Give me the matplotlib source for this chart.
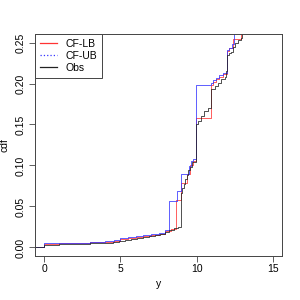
import matplotlib
matplotlib.use("Agg")
import matplotlib.pyplot as plt
from matplotlib.lines import Line2D

plt.rcParams['font.family'] = ['Liberation Sans', 'DejaVu Sans']

# step knots (x where the step happens, cdf after it)
lb_x = [0.0, 1.0, 2.0, 3.0, 4.0, 4.6, 4.97, 5.5, 6.0, 6.5, 7.0, 7.5, 7.9, 8.3,
        8.67, 8.95, 9.35, 9.55, 9.75, 9.97, 10.96, 11.1, 11.3, 11.5, 11.7,
        11.96, 12.15, 12.4, 12.92]
lb_y = [0.0045, 0.005, 0.0057, 0.0063, 0.007, 0.008, 0.0105, 0.0115, 0.0125,
        0.014, 0.0155, 0.017, 0.020, 0.022, 0.058, 0.079, 0.090, 0.100, 0.106,
        0.158, 0.198, 0.202, 0.205, 0.208, 0.212, 0.240, 0.243, 0.2537, 0.30]

ub_x = [0.0, 1.0, 2.0, 3.0, 4.0, 4.6, 4.97, 5.5, 6.0, 6.5, 7.0, 7.5, 7.9, 8.22,
        8.71, 8.95, 9.48, 9.6, 9.75, 9.93, 10.96, 11.1, 11.3, 11.5, 11.7,
        11.96, 12.1, 12.3, 12.44]
ub_y = [0.005, 0.0055, 0.006, 0.0068, 0.0075, 0.0085, 0.012, 0.013, 0.014,
        0.015, 0.0165, 0.018, 0.021, 0.0565, 0.0687, 0.090, 0.099, 0.105, 0.108,
        0.198, 0.201, 0.204, 0.207, 0.210, 0.213, 0.241, 0.243, 0.2476, 0.30]

obs_x = [0.0, 0.5, 1.0, 1.5, 2.0, 2.5, 3.0, 3.5, 4.0, 4.5, 4.9, 5.3, 5.7, 6.1,
         6.5, 6.9, 7.3, 7.6, 7.9, 8.2, 8.5, 8.8, 8.95, 9.05, 9.15, 9.25, 9.35,
         9.45, 9.55, 9.7, 9.98, 10.09, 10.31, 10.48, 10.74, 10.96, 11.18,
         11.39, 11.61, 11.83, 11.94, 11.98, 12.11, 12.27, 12.37, 12.55, 12.7,
         12.92, 12.98]
obs_y = [0.003, 0.0033, 0.0037, 0.004, 0.0043, 0.0046, 0.005, 0.0053, 0.0057,
         0.0065, 0.0077, 0.0088, 0.010, 0.0112, 0.0125, 0.014, 0.0155, 0.017,
         0.019, 0.0215, 0.0235, 0.0255, 0.067, 0.072, 0.078, 0.084, 0.089,
         0.094, 0.098, 0.104, 0.150, 0.154, 0.160, 0.166, 0.170, 0.193, 0.197,
         0.201, 0.205, 0.208, 0.215, 0.235, 0.237, 0.239, 0.245, 0.249, 0.253,
         0.256, 0.30]

series = [("CF-LB", lb_x, lb_y, "#ff3333", "-"),
          ("CF-UB", ub_x, ub_y, "#3333ff", ":"),
          ("Obs", obs_x, obs_y, "#222222", "-")]

fig = plt.figure(figsize=(3, 3), dpi=100)
ax = fig.add_axes([0.1167, 0.1467, 0.8233, 0.74])

for name, xs, ys, col, ls in series:
  xx = [-1.0] + xs + [16.0]
  yy = [0.0] + ys + [ys[-1]]
  ax.step(xx, yy, where='post', color=col, lw=0.55)

ax.set_xlim(-0.6, 15.6)
ax.set_ylim(-0.0104, 0.2604)
ax.set_xticks([0, 5, 10, 15])
ax.set_xticklabels(['0', '5', '10', '15'], fontsize=7.5)
yt = [0.0, 0.05, 0.10, 0.15, 0.20, 0.25]
ax.set_yticks(yt)
ax.set_yticklabels(["%.2f" % v for v in yt], fontsize=7.5, rotation=90, va='center')
ax.tick_params(direction='out', length=4.5, width=0.6, color='#444444')
ax.tick_params(axis='x', pad=1.5)
ax.tick_params(axis='y', pad=2)
for s in ax.spines.values():
  s.set_linewidth(0.7)
  s.set_color('#444444')

ax.set_xlabel('y', fontsize=7.5)
ax.set_ylabel('cdf', fontsize=7.5)
ax.xaxis.set_label_coords(0.5, -0.105)
ax.yaxis.set_label_coords(-0.105, 0.5)

handles = [Line2D([], [], color=c, lw=0.9, ls=l) for _, _, _, c, l in series]
leg = ax.legend(handles, [s[0] for s in series], loc='upper left', fontsize=7.5,
                borderaxespad=0, fancybox=False, framealpha=1, edgecolor='#444444',
                handlelength=1.7, handletextpad=0.75, labelspacing=0.2, borderpad=0.45)
leg.get_frame().set_linewidth(0.7)

fig.savefig('out.png', dpi=100)
